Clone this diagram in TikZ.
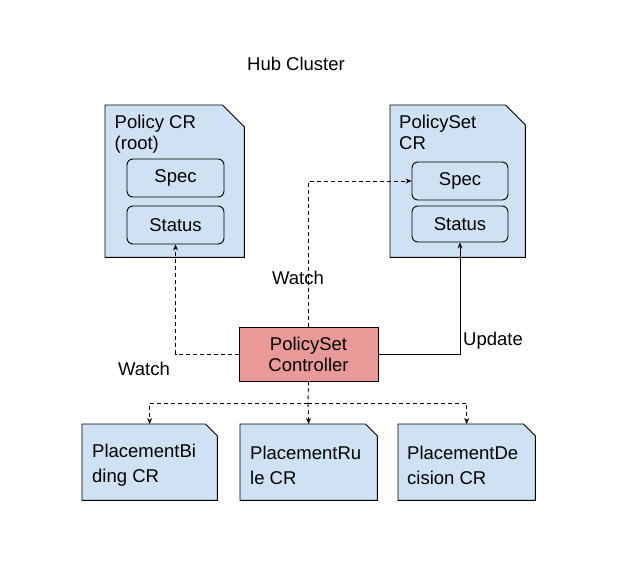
\documentclass[tikz,border=0pt]{standalone}
\usepackage{fontspec}
\setmainfont{Liberation Sans}
\usetikzlibrary{positioning, calc, backgrounds, arrows.meta}

\definecolor{docblue}{HTML}{CFE2F3}
\definecolor{ctrlred}{HTML}{EA9999}

% folded-corner outline behind a doc node
\newcommand{\docoutline}[2]{%
  \begin{scope}[on background layer]
    \draw[docline] (#1.north west) -- ([xshift=-#2]#1.north east)
      -- ([yshift=-#2]#1.north east) -- (#1.south east) -- (#1.south west) -- cycle;
  \end{scope}}

\begin{document}
\begin{tikzpicture}[
        x=1pt, y=-1pt,
        font=\fontsize{18.5}{21}\selectfont,
        doc/.style={rectangle, inner sep=0pt, anchor=north west},
        docline/.style={draw=black, line width=0.9pt, fill=docblue},
        part/.style={rectangle, rounded corners=6pt, draw=black, line width=0.9pt, fill=docblue, minimum width=97pt, minimum height=38pt, inner sep=0pt},
        ctrl/.style={rectangle, draw=black, line width=0.9pt, fill=ctrlred, minimum width=139pt, minimum height=54pt, inner sep=0pt, align=center},
        title/.style={inner sep=0pt, align=left},
        lowtitle/.style={title, anchor=west, font=\fontsize{18.5}{25}\selectfont},
        lbl/.style={inner sep=0pt},
        arr/.style={-{Stealth[length=6pt,width=5pt]}, line width=0.9pt},
        dasharr/.style={arr, dash pattern=on 4pt off 3pt}
    ]

    \begin{scope}[on background layer]
      \fill[white] (0,0) rectangle (625,581);
    \end{scope}
    \useasboundingbox (0,0) rectangle (625,581);

    \node[lbl] (hub) at (296,64) {Hub Cluster};

    % Policy CR
    \node[doc, minimum width=139pt, minimum height=152pt] (pol) at (105,105) {};
    \docoutline{pol}{22pt}
    \node[title, anchor=north west] (pol_title) at ([xshift=9.5pt,yshift=-9.8pt]pol.north west) {Policy CR\\(root)};
    \node[part] (pol_spec) at (175.5,178) {Spec};
    \node[part] (pol_status) at (175.5,225) {Status};

    % PolicySet CR
    \node[doc, minimum width=135pt, minimum height=152pt] (pset) at (390,105) {};
    \docoutline{pset}{20pt}
    \node[title, anchor=north west] (pset_title) at ([xshift=9pt,yshift=-9.8pt]pset.north west) {PolicySet\\CR};
    \node[part, minimum width=96pt] (pset_spec) at (460,181) {Spec};
    \node[part, minimum width=96pt, minimum height=36pt] (pset_status) at (460,224) {Status};

    % Controller
    \node[ctrl] (ctrl) at (308.5,354) {PolicySet\\Controller};
    \draw[dasharr] (ctrl.west) -| (pol_status.south);
    \draw[dasharr] (ctrl.north) |- (pset_spec.west);
    \draw[arr] (ctrl.east) -| (pset_status.south);
    \node[lbl] (watch_mid) at (298,278) {Watch};
    \node[lbl] (watch_left) at (144,369) {Watch};
    \node[lbl] (update) at (493,341) {Update};

    % Placement CRs
    \node[doc, minimum width=135pt, minimum height=76pt] (pbind) at (82,424) {};
    \docoutline{pbind}{12pt}
    \node[lowtitle] (pbind_title) at ([xshift=10pt,yshift=-3pt]pbind.west) {PlacementBi\\ding CR};
    \node[doc, minimum width=137pt, minimum height=76pt] (prule) at (240,424) {};
    \docoutline{prule}{12pt}
    \node[lowtitle] (prule_title) at ([xshift=10pt,yshift=-3pt]prule.west) {PlacementRu\\le CR};
    \node[doc, minimum width=137pt, minimum height=76pt] (pdec) at (398,424) {};
    \docoutline{pdec}{12pt}
    \node[lowtitle] (pdec_title) at ([xshift=9pt,yshift=-3pt]pdec.west) {PlacementDe\\cision CR};

    \coordinate (split) at (308,403);
    \draw[dash pattern=on 4pt off 3pt, line width=0.9pt] (ctrl.south) -- (split);
    \draw[dasharr] (split) -| (pbind.north);
    \draw[dasharr] (split) -- (prule.north);
    \draw[dasharr] (split) -| (pdec.north);

\end{tikzpicture}
\end{document}
